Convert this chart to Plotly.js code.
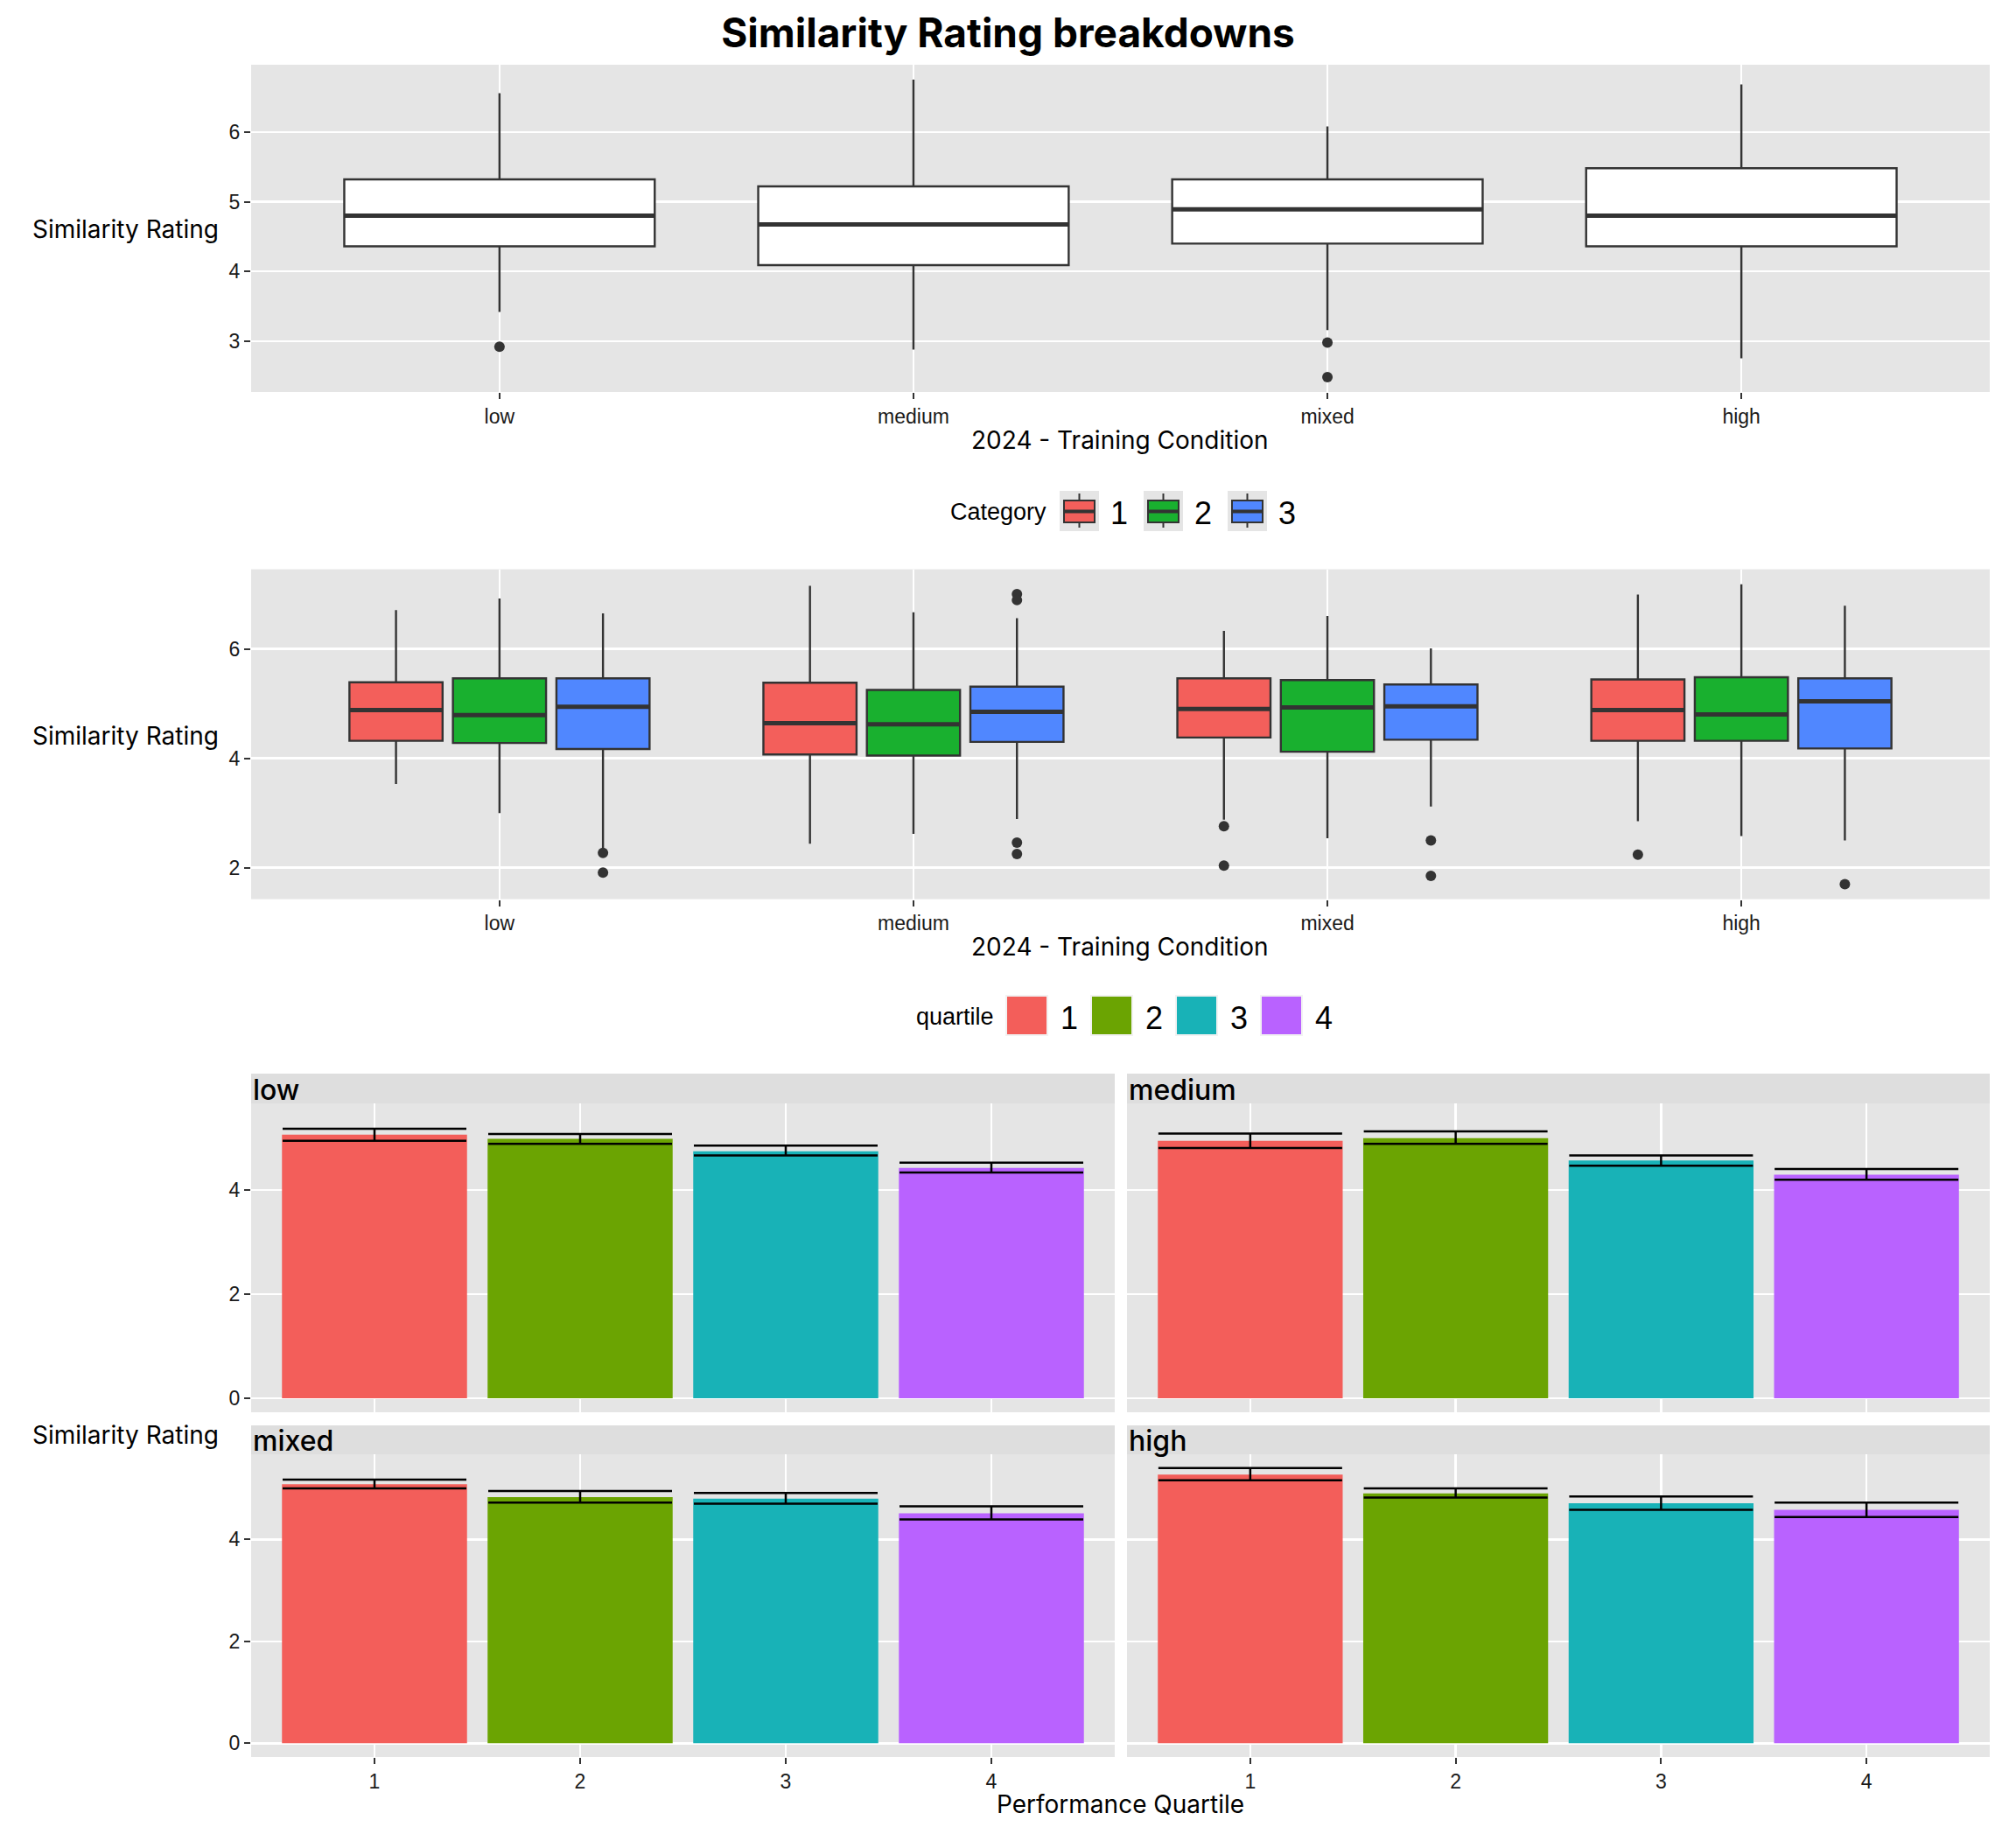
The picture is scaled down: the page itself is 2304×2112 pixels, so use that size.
<!DOCTYPE html>
<html>
<head>
<meta charset="utf-8">
<script src="https://cdn.plot.ly/plotly-3.0.1.min.js"></script>
<style>
  html, body { margin: 0; padding: 0; background: #fff; }
  #main-screen { width: 2304px; height: 2112px; }
</style>
</head>
<body>
<div id="main-screen"></div>
<script>
// ------------------------------------------------------------------------------
// DATA

const conditions = ['low', 'medium', 'mixed', 'high'];

// top panel: all ratings per training condition
const allLowerFence = [3.42, 2.88, 3.16, 2.755];
const allQ1         = [4.36, 4.09, 4.40, 4.36];
const allMedian     = [4.80, 4.675, 4.89, 4.80];
const allQ3         = [5.32, 5.22, 5.32, 5.48];
const allUpperFence = [6.556, 6.75, 6.08, 6.68];
const allOutliers   = [[2.92], [], [2.98, 2.485], []];

// middle panel: split by category (rows = category 1, 2, 3)
const categories    = ['1', '2', '3'];
const catLowerFence = [[3.53, 2.44, 2.88, 2.85], [3.00, 2.62, 2.54, 2.58], [2.36, 2.89, 3.12, 2.50]];
const catQ1         = [[4.32, 4.07, 4.38, 4.32], [4.28, 4.05, 4.12, 4.32], [4.17, 4.30, 4.34, 4.18]];
const catMedian     = [[4.88, 4.64, 4.90, 4.88], [4.79, 4.62, 4.93, 4.80], [4.94, 4.85, 4.95, 5.04]];
const catQ3         = [[5.39, 5.38, 5.46, 5.44], [5.46, 5.25, 5.43, 5.48], [5.46, 5.31, 5.35, 5.46]];
const catUpperFence = [[6.71, 7.15, 6.33, 6.99], [6.92, 6.67, 6.60, 7.18], [6.65, 6.56, 6.01, 6.79]];
const catOutliers   = [
    [[], [], [2.76, 2.04], [2.24]],
    [[], [], [], []],
    [[2.27, 1.91], [7.00, 6.89, 2.46, 2.25], [2.50, 1.85], [1.70]]
];

// bottom panels: mean rating per performance quartile, one row per condition
const quartiles   = [1, 2, 3, 4];
const quartMean   = [[5.07, 4.99, 4.75, 4.43], [4.95, 5.00, 4.57, 4.30], [5.08, 4.83, 4.80, 4.51], [5.27, 4.90, 4.71, 4.58]];
const quartLower  = [[4.95, 4.89, 4.67, 4.34], [4.81, 4.89, 4.47, 4.20], [5.00, 4.72, 4.70, 4.39], [5.16, 4.82, 4.58, 4.44]];
const quartUpper  = [[5.18, 5.08, 4.86, 4.53], [5.09, 5.13, 4.67, 4.41], [5.17, 4.95, 4.91, 4.65], [5.40, 5.00, 4.84, 4.72]];

// ------------------------------------------------------------------------------
// STYLE

const W = 2304;
const H = 2112;
const px = v => v / W;
const py = v => 1 - v / H;

const catColors   = ['#F35F5B', '#19B02F', '#5087FF'];
const quartColors = ['#F35E5A', '#6BA402', '#18B2B7', '#B962FF'];
const boxLine     = '#333333';
const panelBg     = '#E5E5E5';
const stripBg     = '#DEDEDE';
const titleFont   = 'Inter, Roboto, sans-serif';
const tickFont    = '"Liberation Sans", Arial, sans-serif';

function expandRange(lo, hi) {
    const d = (hi - lo) * 0.05;
    return [lo - d, hi + d];
}

function flat(a) { return [].concat(...a); }

// ------------------------------------------------------------------------------
// TRACES

const traces = [];

function medianSegments(centers, medians, half) {
    const xs = [], ys = [];
    centers.forEach((c, i) => {
        xs.push(c - half, c + half, null);
        ys.push(medians[i], medians[i], null);
    });
    return { x: xs, y: ys };
}

function outlierPoints(centers, outs) {
    const xs = [], ys = [];
    outs.forEach((vals, i) => vals.forEach(v => { xs.push(centers[i]); ys.push(v); }));
    return { x: xs, y: ys };
}

// top panel
const topCenters = conditions.map((c, i) => i);
traces.push({
    type: 'box', xaxis: 'x', yaxis: 'y',
    x: topCenters,
    q1: allQ1, median: allMedian, q3: allQ3,
    lowerfence: allLowerFence, upperfence: allUpperFence,
    width: 0.75, whiskerwidth: 0, boxpoints: false,
    fillcolor: '#ffffff', line: { color: boxLine, width: 2.4 },
    showlegend: false, hoverinfo: 'skip'
});
const topMed = medianSegments(topCenters, allMedian, 0.375);
traces.push({
    type: 'scatter', mode: 'lines', xaxis: 'x', yaxis: 'y',
    x: topMed.x, y: topMed.y,
    line: { color: boxLine, width: 5 }, showlegend: false, hoverinfo: 'skip'
});
const topOut = outlierPoints(topCenters, allOutliers);
traces.push({
    type: 'scatter', mode: 'markers', xaxis: 'x', yaxis: 'y',
    x: topOut.x, y: topOut.y,
    marker: { color: boxLine, size: 12 }, showlegend: false, hoverinfo: 'skip'
});

// middle panel
categories.forEach((cat, k) => {
    const centers = conditions.map((c, i) => i + (k - 1) * 0.25);
    traces.push({
        type: 'box', xaxis: 'x2', yaxis: 'y2', name: cat,
        x: centers,
        q1: catQ1[k], median: catMedian[k], q3: catQ3[k],
        lowerfence: catLowerFence[k], upperfence: catUpperFence[k],
        width: 0.225, whiskerwidth: 0, boxpoints: false,
        fillcolor: catColors[k], line: { color: boxLine, width: 2.4 },
        showlegend: false, hoverinfo: 'skip'
    });
    const med = medianSegments(centers, catMedian[k], 0.1125);
    traces.push({
        type: 'scatter', mode: 'lines', xaxis: 'x2', yaxis: 'y2',
        x: med.x, y: med.y,
        line: { color: boxLine, width: 5 }, showlegend: false, hoverinfo: 'skip'
    });
    const out = outlierPoints(centers, catOutliers[k]);
    traces.push({
        type: 'scatter', mode: 'markers', xaxis: 'x2', yaxis: 'y2',
        x: out.x, y: out.y,
        marker: { color: boxLine, size: 12 }, showlegend: false, hoverinfo: 'skip'
    });
});

// bottom facets
conditions.forEach((cond, f) => {
    const ax = String(f + 3);
    traces.push({
        type: 'bar', xaxis: 'x' + ax, yaxis: 'y' + ax,
        x: quartiles, y: quartMean[f], width: 0.9,
        marker: { color: quartColors, line: { width: 0 } },
        error_y: {
            type: 'data', symmetric: false,
            array: quartUpper[f].map((u, i) => u - quartMean[f][i]),
            arrayminus: quartLower[f].map((l, i) => quartMean[f][i] - l),
            color: '#000000', thickness: 2.5, width: 105
        },
        showlegend: false, hoverinfo: 'skip'
    });
});

// ------------------------------------------------------------------------------
// LAYOUT

const topRange = expandRange(
    Math.min(...allLowerFence, ...flat(allOutliers)),
    Math.max(...allUpperFence, ...flat(allOutliers)));
const midRange = expandRange(
    Math.min(...flat(catLowerFence), ...flat(catOutliers.map(flat))),
    Math.max(...flat(catUpperFence), ...flat(catOutliers.map(flat))));
const barRange = expandRange(0, Math.max(...flat(quartUpper)));

const baseAxis = {
    showgrid: true, gridcolor: '#ffffff', gridwidth: 2.5,
    zeroline: false, showline: false,
    ticks: 'outside', ticklen: 7, tickwidth: 2, tickcolor: boxLine,
    tickfont: { family: tickFont, size: 23, color: '#1a1a1a' },
    fixedrange: true
};

const fullX = [px(287), px(2274)];
const leftX = [px(287), px(1274)];
const rightX = [px(1288), px(2274)];
const barTop = [py(1614), py(1261)];
const barBottom = [py(2008), py(1662)];

const catAxis = Object.assign({}, baseAxis, {
    range: [-0.6, 3.6], tickvals: topCenters, ticktext: conditions
});
const quartAxis = Object.assign({}, baseAxis, {
    range: [0.4, 4.6], tickvals: quartiles, ticktext: quartiles.map(String)
});
const barY = Object.assign({}, baseAxis, { range: barRange, dtick: 2, tick0: 0 });

const layout = {
    width: W, height: H,
    margin: { l: 0, r: 0, t: 0, b: 0 },
    paper_bgcolor: '#ffffff',
    plot_bgcolor: panelBg,
    showlegend: false,
    title: {
        text: '<b>Similarity Rating breakdowns</b>',
        x: 0.5, xanchor: 'center', xref: 'paper',
        y: py(38), yanchor: 'middle', yref: 'paper',
        font: { family: titleFont, size: 46, color: '#000000' }
    },
    xaxis:  Object.assign({}, catAxis, { domain: fullX, anchor: 'y' }),
    yaxis:  Object.assign({}, baseAxis, { domain: [py(448), py(74)], range: topRange, dtick: 1, anchor: 'x' }),
    xaxis2: Object.assign({}, catAxis, { domain: fullX, anchor: 'y2' }),
    yaxis2: Object.assign({}, baseAxis, { domain: [py(1027.6), py(650.6)], range: midRange, dtick: 2, tick0: 0, anchor: 'x2' }),
    xaxis3: Object.assign({}, quartAxis, { domain: leftX, anchor: 'y3', showticklabels: false, ticks: '' }),
    yaxis3: Object.assign({}, barY, { domain: barTop, anchor: 'x3' }),
    xaxis4: Object.assign({}, quartAxis, { domain: rightX, anchor: 'y4', showticklabels: false, ticks: '' }),
    yaxis4: Object.assign({}, barY, { domain: barTop, anchor: 'x4', showticklabels: false, ticks: '' }),
    xaxis5: Object.assign({}, quartAxis, { domain: leftX, anchor: 'y5' }),
    yaxis5: Object.assign({}, barY, { domain: barBottom, anchor: 'x5' }),
    xaxis6: Object.assign({}, quartAxis, { domain: rightX, anchor: 'y6' }),
    yaxis6: Object.assign({}, barY, { domain: barBottom, anchor: 'x6', showticklabels: false, ticks: '' }),
    shapes: [],
    annotations: []
};

function rect(x0, y0, x1, y1, fill, line) {
    return {
        type: 'rect', xref: 'paper', yref: 'paper',
        x0: px(x0), x1: px(x1), y0: py(y1), y1: py(y0),
        fillcolor: fill, line: line || { width: 0 }, layer: 'above'
    };
}
function seg(x0, y0, x1, y1, color, width) {
    return {
        type: 'line', xref: 'paper', yref: 'paper',
        x0: px(x0), x1: px(x1), y0: py(y0), y1: py(y1),
        line: { color: color, width: width }, layer: 'above'
    };
}
function label(text, x, y, xanchor, size, family, extra) {
    return Object.assign({
        text: text, xref: 'paper', yref: 'paper',
        x: px(x), y: py(y), xanchor: xanchor, yanchor: 'middle',
        showarrow: false,
        font: { family: family, size: size, color: '#000000' }
    }, extra || {});
}

// axis titles
[262, 841, 1640].forEach(y => layout.annotations.push(label('Similarity Rating', 143, y, 'center', 28, titleFont)));
layout.annotations.push(label('2024 - Training Condition', 1280, 503, 'center', 28, titleFont));
layout.annotations.push(label('2024 - Training Condition', 1280, 1082, 'center', 28, titleFont));
layout.annotations.push(label('Performance Quartile', 1280, 2062, 'center', 28, titleFont));

// facet strips
const strips = [
    { x0: 287, x1: 1274, y0: 1227, y1: 1261 },
    { x0: 1288, x1: 2274, y0: 1227, y1: 1261 },
    { x0: 287, x1: 1274, y0: 1629, y1: 1662 },
    { x0: 1288, x1: 2274, y0: 1629, y1: 1662 }
];
strips.forEach((s, f) => {
    layout.shapes.push(rect(s.x0, s.y0, s.x1, s.y1, stripBg));
    layout.annotations.push(label(conditions[f], s.x0, (s.y0 + s.y1) / 2 + 1, 'left', 32, titleFont,
        { font: { family: titleFont, size: 32, color: '#000000', weight: 500 } }));
});

// Category legend
layout.annotations.push(label('Category', 1198, 585, 'right', 27, tickFont));
categories.forEach((cat, k) => {
    const x0 = 1211 + k * 96;
    const cx = x0 + 22.5;
    layout.shapes.push(rect(x0, 561, x0 + 45, 607, panelBg));
    layout.shapes.push(seg(cx, 564, cx, 603, boxLine, 2));
    layout.shapes.push(rect(x0 + 5, 572, x0 + 40, 597, catColors[k], { color: boxLine, width: 2 }));
    layout.shapes.push(seg(x0 + 5, 584.5, x0 + 40, 584.5, boxLine, 4));
    layout.annotations.push(label(cat, x0 + 56, 586, 'left', 36, tickFont));
});

// quartile legend
layout.annotations.push(label('quartile', 1138, 1162, 'right', 27, tickFont));
quartiles.forEach((q, k) => {
    const x0 = 1151 + k * 97;
    layout.shapes.push(rect(x0 - 2, 1137, x0 + 47, 1184, '#F2F2F2'));
    layout.shapes.push(rect(x0, 1139, x0 + 45, 1182, quartColors[k]));
    layout.annotations.push(label(String(q), x0 + 59, 1163, 'left', 36, tickFont));
});

Plotly.newPlot('main-screen', traces, layout, { displayModeBar: false, staticPlot: true });
</script>
</body>
</html>
